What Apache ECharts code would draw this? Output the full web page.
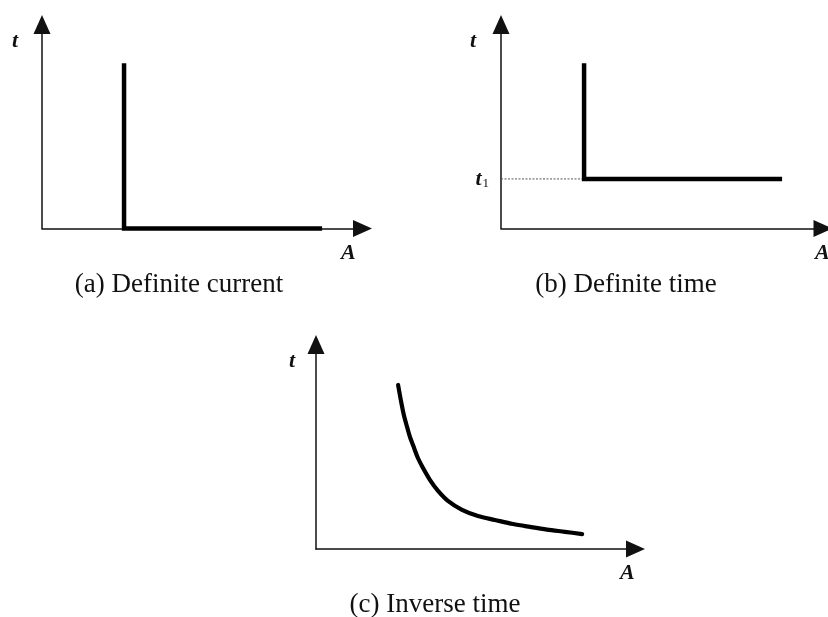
<!DOCTYPE html>
<html>
<head>
<meta charset="utf-8">
<script src="https://cdn.jsdelivr.net/npm/echarts@6/dist/echarts.min.js"></script>
<style>
  html, body { margin: 0; padding: 0; background: #fff; }
  #main { width: 828px; height: 617px; }
</style>
</head>
<body>
<div id="main"></div>
<script>
// Relay characteristics: operating time t versus current A (arbitrary units, 0..100)
const captions = ['(a) Definite current', '(b) Definite time', '(c) Inverse time'];

// (a) definite current: trips at a fixed current, independent of time
const definiteCurrent = [[25.6, 81], [25.6, 0], [87.4, 0]];

// (b) definite time: fixed delay t1 once the pickup current is exceeded
const t1 = 24.3;
const definiteTime = [[25.8, 81], [25.8, t1], [87.3, t1]];
const t1Guide = [[0, t1], [25.8, t1]];

// (c) inverse time: higher current, shorter operating time
const inverseTime = [
  [25.7, 80.2], [26.6, 72.4], [27.5, 65.5], [28.5, 59.7], [29.4, 54.8],
  [30.7, 49.4], [31.9, 44.5], [33.5, 39.6], [35.7, 33.7], [38.2, 28.4],
  [41.3, 23.5], [45.7, 19.1], [50.7, 16.1], [56.0, 14.2], [61.7, 12.2],
  [67.0, 10.8], [72.3, 9.5], [77.9, 8.4], [83.3, 7.3]
];

const SERIF = '"Liberation Serif", "Times New Roman", serif';

function axis(gridIndex, extra) {
  return Object.assign({
    type: 'value', gridIndex: gridIndex, min: 0, max: 100,
    splitLine: { show: false }, axisTick: { show: false }, axisLabel: { show: false },
    axisLine: {
      show: true, onZero: false,
      symbol: ['none', 'triangle'], symbolSize: [17, 19],
      lineStyle: { color: '#111', width: 1.5 }
    }
  }, extra || {});
}

const thick = { color: '#000', width: 4.5, cap: 'butt', join: 'miter' };

const option = {
  backgroundColor: '#fff',
  animation: false,
  grid: [
    { left: 42, top: 24.5, width: 320.5, height: 204 },
    { left: 501, top: 24.5, width: 322, height: 204 },
    { left: 316, top: 344.5, width: 319.5, height: 204.5 }
  ],
  xAxis: [axis(0), axis(1), axis(2)],
  yAxis: [
    axis(0),
    axis(1, {
      axisLabel: {
        show: true, customValues: [t1], margin: 12,
        formatter: function () { return '{t|t}{s|1}'; },
        rich: {
          t: { fontFamily: SERIF, fontWeight: 'bold', fontStyle: 'italic', fontSize: 22, color: '#111' },
          s: { fontFamily: SERIF, fontSize: 13, color: '#111', verticalAlign: 'bottom', padding: [10, 0, 0, 1] }
        }
      }
    }),
    axis(2)
  ],
  series: [
    { type: 'line', xAxisIndex: 0, yAxisIndex: 0, data: definiteCurrent, symbol: 'none', clip: false, lineStyle: thick, z: 5 },
    { type: 'line', xAxisIndex: 1, yAxisIndex: 1, data: t1Guide, symbol: 'none', clip: false,
      lineStyle: { color: '#555', width: 1, type: [2, 1.5] }, z: 4 },
    { type: 'line', xAxisIndex: 1, yAxisIndex: 1, data: definiteTime, symbol: 'none', clip: false, lineStyle: thick, z: 5 },
    { type: 'line', xAxisIndex: 2, yAxisIndex: 2, data: inverseTime, symbol: 'none', clip: false,
      smooth: 0.3,
      lineStyle: { color: '#000', width: 4.2, cap: 'round', join: 'round' }, z: 5 }
  ],
  graphic: [
    // axis names
    { type: 'text', left: 12, top: 30, style: { text: 't', font: 'italic bold 22px ' + SERIF, fill: '#111' } },
    { type: 'text', left: 341, top: 242, style: { text: 'A', font: 'italic bold 22px ' + SERIF, fill: '#111' } },
    { type: 'text', left: 470, top: 30, style: { text: 't', font: 'italic bold 22px ' + SERIF, fill: '#111' } },
    { type: 'text', left: 815, top: 242, style: { text: 'A', font: 'italic bold 22px ' + SERIF, fill: '#111' } },
    { type: 'text', left: 289, top: 350, style: { text: 't', font: 'italic bold 22px ' + SERIF, fill: '#111' } },
    { type: 'text', left: 620, top: 562, style: { text: 'A', font: 'italic bold 22px ' + SERIF, fill: '#111' } },
    // captions
    { type: 'text', x: 179, y: 285, style: { text: captions[0], font: '27px ' + SERIF, fill: '#111', textAlign: 'center', textVerticalAlign: 'middle' } },
    { type: 'text', x: 626, y: 285, style: { text: captions[1], font: '27px ' + SERIF, fill: '#111', textAlign: 'center', textVerticalAlign: 'middle' } },
    { type: 'text', x: 435, y: 605, style: { text: captions[2], font: '27px ' + SERIF, fill: '#111', textAlign: 'center', textVerticalAlign: 'middle' } }
  ]
};

const chart = echarts.init(document.getElementById('main'), null, { renderer: 'canvas' });
chart.setOption(option);
</script>
</body>
</html>
